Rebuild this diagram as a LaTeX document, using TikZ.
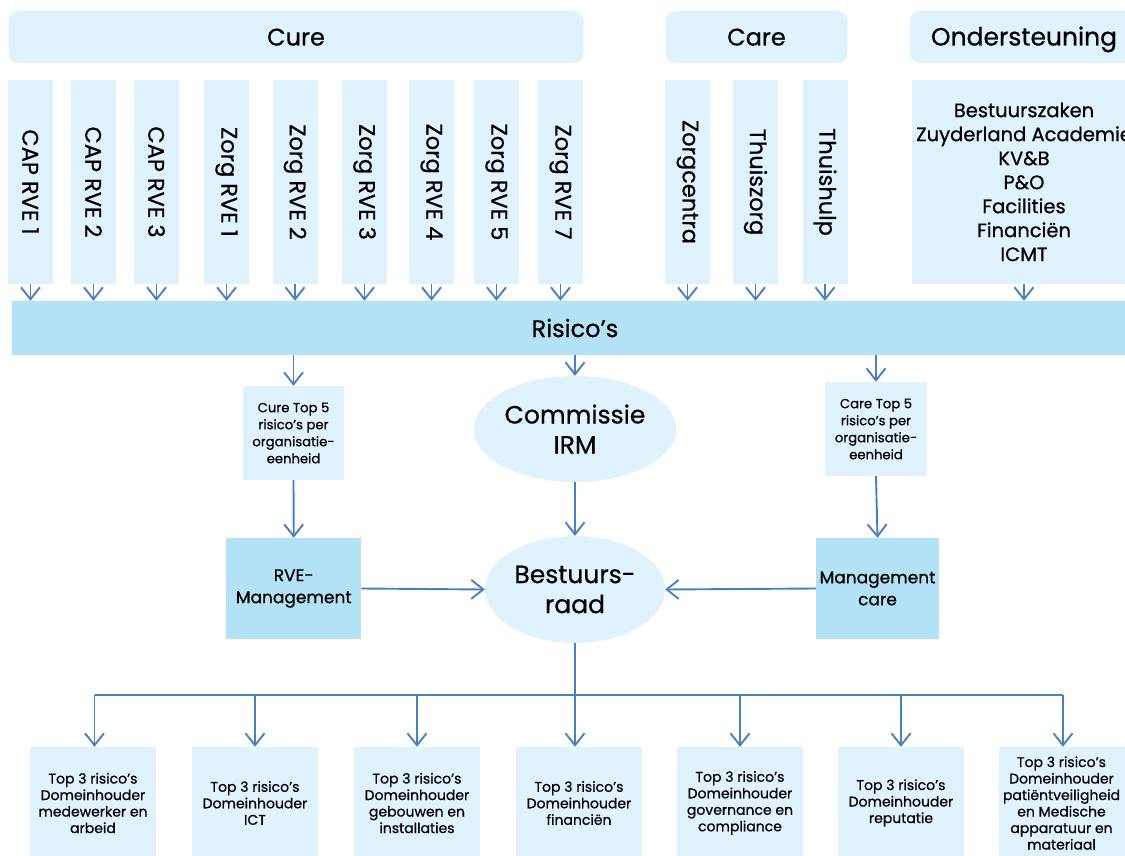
\documentclass[tikz,border=0pt]{standalone}
\usepackage{fontspec}
\setmainfont{Poppins}[FakeBold=0.6]
\usetikzlibrary{arrows.meta,shapes.geometric}
\definecolor{lb}{HTML}{E0F2FB}
\definecolor{mb}{HTML}{B3E1F6}
\definecolor{ab}{HTML}{4A7FC1}
\begin{document}
\begin{tikzpicture}[x=1pt,y=-1pt,
  hdr/.style={fill=lb, rounded corners=10pt, inner sep=0pt, minimum height=52pt, text height=17pt, text depth=0pt, font=\fontsize{24}{28}\selectfont},
  colbox/.style={fill=lb, inner sep=0pt, minimum width=45pt, minimum height=204pt, font=\fontsize{22.5}{26}\selectfont},
  vtip/.tip={Straight Barb[length=12pt, width=19pt, line width=1.9pt]},
  arr/.style={draw=ab, line width=1.9pt, -vtip},
  ln/.style={draw=ab, line width=1.9pt},
  small/.style={fill=lb, inner sep=0pt, align=center, font=\fontsize{13.2}{17}\selectfont},
  mgmt/.style={fill=mb, inner sep=0pt, align=center, minimum height=101pt, font=\fontsize{17}{22}\selectfont},
  ell/.style={ellipse, fill=lb, inner sep=0pt, align=center, font=\fontsize{25}{30}\selectfont},
  bot/.style={fill=lb, inner sep=0pt, align=center, minimum width=126pt, minimum height=112pt, font=\fontsize{14}{16.5}\selectfont}
]
\clip (0,0) rectangle (1125,856);
\fill[white] (0,0) rectangle (1125,856);

% headers
\node[hdr, minimum width=575pt] (cure) at (296,37) {Cure};
\node[hdr, minimum width=182pt] (care) at (756.5,37) {Care};
\node[hdr, minimum width=228pt, font=\fontsize{25}{28}\selectfont] (onder) at (1024,37) {Ondersteuning};

% cure columns
\node[colbox] (c1) at (30.5,182) {\rotatebox{-90}{CAP RVE 1}};
\node[colbox] (c2) at (93.5,182) {\rotatebox{-90}{CAP RVE 2}};
\node[colbox] (c3) at (156.5,182) {\rotatebox{-90}{CAP RVE 3}};
\node[colbox] (c4) at (226.5,182) {\rotatebox{-90}{Zorg RVE 1}};
\node[colbox] (c5) at (295,182) {\rotatebox{-90}{Zorg RVE 2}};
\node[colbox] (c6) at (364.5,182) {\rotatebox{-90}{Zorg RVE 3}};
\node[colbox] (c7) at (431.5,182) {\rotatebox{-90}{Zorg RVE 4}};
\node[colbox] (c8) at (496.5,182) {\rotatebox{-90}{Zorg RVE 5}};
\node[colbox] (c9) at (560.5,182) {\rotatebox{-90}{Zorg RVE 7}};
% care columns
\node[colbox] (k1) at (687.5,182) {\rotatebox{-90}{Zorgcentra}};
\node[colbox] (k2) at (755.5,182) {\rotatebox{-90}{Thuiszorg}};
\node[colbox] (k3) at (825,182) {\rotatebox{-90}{Thuishulp}};
% ondersteuning
\node[fill=lb, inner sep=0pt, minimum width=224pt, minimum height=204pt, align=center, font=\fontsize{19.5}{24}\selectfont] (o1) at (1024,182)
 {Bestuurszaken\\Zuyderland Academie\\KV\&B\\P\&O\\Facilities\\Financiën\\ICMT};

% risico's bar
\node[fill=mb, inner sep=0pt, minimum width=1126pt, minimum height=54pt, font=\fontsize{24}{28}\selectfont] (ris) at (575,328) {Risico’s};

\foreach \n in {c1,c2,c3,c4,c5,c6,c7,c8,c9,k1,k2,k3,o1}
  \draw[arr] (\n.south) -- (\n.south |- ris.north);

% middle
\node[small, minimum width=101pt, minimum height=94pt] (cure5) at (293.5,433) {Cure Top 5\\risico’s per\\organisatie-\\eenheid};
\node[small, minimum width=102pt, minimum height=94pt] (care5) at (876,429) {Care Top 5\\risico’s per\\organisatie-\\eenheid};
\node[ell, minimum width=202pt, minimum height=106pt] (irm) at (575,429) {Commissie\\IRM};
\node[ell, minimum width=180pt, minimum height=107pt] (br) at (575,589.5) {Bestuurs-\\raad};
\node[mgmt, minimum width=135pt] (rvem) at (293.75,588.5) {RVE-\\Management};
\node[mgmt, minimum width=123pt] (mcare) at (877.5,588.5) {Management\\care};

\draw[arr] (ris.south -| cure5.north) -- (cure5.north);
\draw[arr] (ris.south -| care5.north) -- (care5.north);
\draw[arr] (ris.south -| irm.north) -- (irm.north);
\draw[arr] (irm.south) -- (br.north);
\draw[arr] (cure5.south) -- (rvem.north);
\draw[arr] (care5.south) -- (mcare.north);
\draw[arr] (rvem.east) -- (br.west);
\draw[arr] (mcare.west) -- (br.east);

% bottom
\node[bot] (b1) at (93,803) {Top 3 risico’s\\Domeinhouder\\medewerker en\\arbeid};
\node[bot] (b2) at (255,803) {Top 3 risico’s\\Domeinhouder\\ICT};
\node[bot] (b3) at (417,803) {Top 3 risico’s\\Domeinhouder\\gebouwen en\\installaties};
\node[bot] (b4) at (579,803) {Top 3 risico’s\\Domeinhouder\\financiën};
\node[bot] (b5) at (740,803) {Top 3 risico’s\\Domeinhouder\\governance en\\compliance};
\node[bot] (b6) at (901,803) {Top 3 risico’s\\Domeinhouder\\reputatie};
\node[bot] (b7) at (1061.5,803) {Top 3 risico’s\\Domeinhouder\\patiëntveiligheid\\en Medische\\apparatuur en\\materiaal};

\coordinate (j) at (575,695);
\coordinate (jl) at (94.5,695);
\coordinate (jr) at (1063,695);
\draw[ln] (br.south) -- (j);
\draw[ln] (jl) -- (jr);
\draw[arr] (jl) -- (jl |- b1.north);
\draw[arr] (j -| b2.north) -- (b2.north);
\draw[arr] (j -| b3.north) -- (b3.north);
\draw[arr] (j) -- (j |- b4.north);
\draw[arr] (j -| b5.north) -- (b5.north);
\draw[arr] (j -| b6.north) -- (b6.north);
\draw[arr] (jr) -- (jr |- b7.north);
\end{tikzpicture}
\end{document}
